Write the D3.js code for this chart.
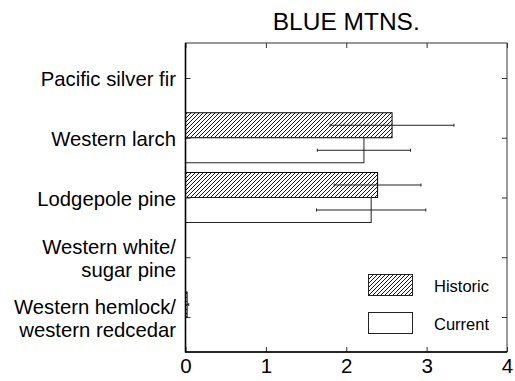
<!DOCTYPE html>
<html>
<head>
<meta charset="utf-8">
<script src="https://cdn.jsdelivr.net/npm/d3@7"></script>
<style>
  html, body { margin: 0; padding: 0; background: #fff; }
  svg { display: block; font-family: Arial, "Liberation Sans", Helvetica, sans-serif; }
</style>
</head>
<body>
<svg id="chart" width="515" height="381"></svg>
<script>
// ---- data ----
const title = "BLUE MTNS.";
const categories = ["Pacific silver fir", "Western larch", "Lodgepole pine",
  "Western white/\nsugar pine", "Western hemlock/\nwestern redcedar"];
const historic    = [0, 2.57, 2.39, 0, 0.02];
const historicErr = [0, 0.77, 0.54, 0, 0.02];
const current     = [0, 2.22, 2.31, 0, 0];
const currentErr  = [0, 0.58, 0.68, 0, 0];
const xTicks = [0, 1, 2, 3, 4];
const seriesNames = ["Historic", "Current"];

// ---- layout ----
const L = 185.5, R = 507, T = 43, B = 352;
const barH = 25;

const svg = d3.select("#chart");
const x = d3.scaleLinear().domain([0, 4]).range([L, R]);
const y = d3.scalePoint().domain(categories).range([T, B]).padding(0.586);

// hatch pattern
const defs = svg.append("defs");
defs.append("pattern")
  .attr("id", "hatch").attr("patternUnits", "userSpaceOnUse")
  .attr("width", 4).attr("height", 4)
  .append("path")
  .attr("d", "M-1,1 l2,-2 M0,4 l4,-4 M3,5 l2,-2")
  .attr("stroke", "#000").attr("stroke-width", 0.9);

// frame
svg.append("rect").attr("x", L).attr("y", T).attr("width", R - L).attr("height", B - T)
  .attr("fill", "none").attr("stroke", "#333").attr("stroke-width", 1);

// title
svg.append("text").attr("x", (L + R) / 2).attr("y", 29.5)
  .attr("text-anchor", "middle").attr("font-size", 24.5)
  .text(title);

// bars
const rows = categories.map((c, i) => ({c, h: historic[i], he: historicErr[i], cu: current[i], ce: currentErr[i]}));

const g = svg.append("g");
g.selectAll("rect.hist").data(rows.filter(d => d.h > 0)).join("rect")
  .attr("class", "hist")
  .attr("x", x(0)).attr("y", d => y(d.c) - barH)
  .attr("width", d => x(d.h) - x(0)).attr("height", barH)
  .attr("fill", "url(#hatch)").attr("stroke", "#000").attr("stroke-width", 1);

g.selectAll("rect.cur").data(rows.filter(d => d.cu > 0)).join("rect")
  .attr("class", "cur")
  .attr("x", x(0)).attr("y", d => y(d.c))
  .attr("width", d => x(d.cu) - x(0)).attr("height", barH)
  .attr("fill", "#fff").attr("stroke", "#222").attr("stroke-width", 1);

// error bars
function errBars(data, valKey, errKey, offset) {
  const eg = g.selectAll(null).data(data.filter(d => d[errKey] > 0)).join("g")
    .attr("stroke", "#222").attr("stroke-width", 1);
  eg.append("line")
    .attr("x1", d => x(d[valKey] - d[errKey])).attr("x2", d => x(d[valKey] + d[errKey]))
    .attr("y1", d => y(d.c) + offset).attr("y2", d => y(d.c) + offset);
  eg.append("line")
    .attr("x1", d => x(d[valKey] - d[errKey])).attr("x2", d => x(d[valKey] - d[errKey]))
    .attr("y1", d => y(d.c) + offset - 1.5).attr("y2", d => y(d.c) + offset + 1.5);
  eg.append("line")
    .attr("x1", d => x(d[valKey] + d[errKey])).attr("x2", d => x(d[valKey] + d[errKey]))
    .attr("y1", d => y(d.c) + offset - 1.5).attr("y2", d => y(d.c) + offset + 1.5);
}
errBars(rows, "h", "he", -barH / 2);
errBars(rows, "cu", "ce", barH / 2);

// bottom axis
const xAxis = svg.append("g").attr("transform", `translate(0,${B})`)
  .call(d3.axisBottom(x).tickValues(xTicks).tickFormat(d3.format("d")).tickSize(-5).tickPadding(6));
xAxis.select(".domain").remove();
xAxis.selectAll("text").attr("font-size", 20.5).attr("fill", "#000").attr("font-family", null);
xAxis.selectAll("line").attr("stroke", "#333");

// top ticks
svg.append("g").attr("transform", `translate(0,${T})`)
  .call(d3.axisTop(x).tickValues(xTicks).tickFormat("").tickSize(-5))
  .call(s => s.select(".domain").remove())
  .selectAll("line").attr("stroke", "#333");

// right ticks
svg.append("g").attr("transform", `translate(${R},0)`)
  .call(d3.axisRight(y).tickFormat("").tickSize(-5))
  .call(s => s.select(".domain").remove())
  .selectAll("line").attr("stroke", "#333");

// left axis
const yAxis = svg.append("g").attr("transform", `translate(${L},0)`)
  .call(d3.axisLeft(y).tickSize(-5).tickPadding(9.5));
yAxis.select(".domain").remove();
yAxis.selectAll("line").attr("stroke", "#333");
yAxis.selectAll("text").each(function(d) {
  const t = d3.select(this);
  const lines = d.split("\n");
  t.text(null).attr("font-size", 20.3).attr("fill", "#000").attr("font-family", null).attr("dy", null);
  const lh = 22.5;
  lines.forEach((ln, i) => {
    t.append("tspan").attr("x", -9.5)
      .attr("y", (i - (lines.length - 1) / 2) * lh)
      .attr("dy", "0.39em").text(ln);
  });
});

// thick left/bottom axis lines
svg.append("line").attr("x1", L).attr("x2", L).attr("y1", T).attr("y2", B + 0.5)
  .attr("stroke", "#000").attr("stroke-width", 1.6);
svg.append("line").attr("x1", L).attr("x2", R).attr("y1", B).attr("y2", B)
  .attr("stroke", "#000").attr("stroke-width", 1.4);

// legend
const legend = svg.append("g");
const legY = [274.5, 312.5];
seriesNames.forEach((name, i) => {
  legend.append("rect").attr("x", 368.5).attr("y", legY[i]).attr("width", 44).attr("height", 21)
    .attr("fill", i === 0 ? "url(#hatch)" : "#fff").attr("stroke", "#222").attr("stroke-width", 1);
  legend.append("text").attr("x", 434).attr("y", legY[i] + 17)
    .attr("font-size", 16.5).attr("fill", "#000").text(name);
});
</script>
</body>
</html>
